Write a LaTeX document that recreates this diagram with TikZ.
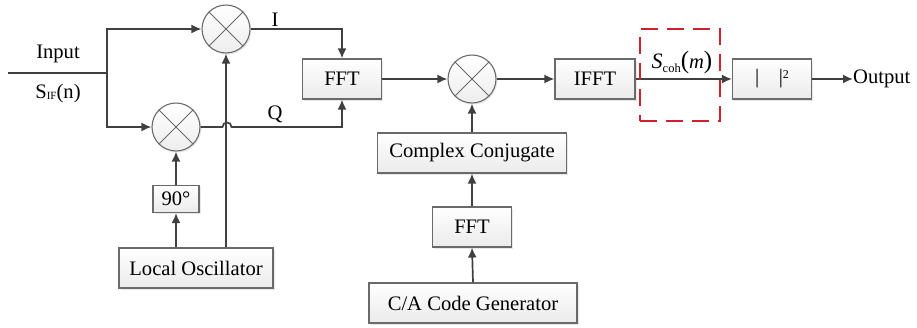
\documentclass[tikz,border=0pt]{standalone}
\usepackage{fontspec}
\setmainfont{Liberation Serif}
\usetikzlibrary{arrows.meta,shadows}
\definecolor{ln}{HTML}{404040}
\definecolor{bd}{HTML}{6A6A6A}
\definecolor{hired}{HTML}{D0202E}
\begin{document}
\begin{tikzpicture}[x=1pt,y=-1pt,
  font=\fontsize{20.6}{24}\selectfont,
  blk/.style={draw=bd,line width=1.1pt,top color=white,bottom color=gray!16,
    drop shadow={opacity=0.18,shadow xshift=1.5pt,shadow yshift=-1.5pt},
    minimum height=40pt,inner sep=0pt,align=center},
  mix/.style={circle,draw=bd,line width=1.1pt,top color=white,bottom color=gray!14,
    drop shadow={opacity=0.18,shadow xshift=1.5pt,shadow yshift=-1.5pt},
    minimum size=48pt,inner sep=0pt},
  wire/.style={draw=ln,line width=1.7pt},
  arr/.style={wire,-{Latex[length=10pt,width=9pt]}},
  lbl/.style={inner sep=0pt,text=black}]
\useasboundingbox (0,0) rectangle (917,327);

% blocks
\node[mix] (mixU) at (226,29) {};
\node[mix] (mixL) at (176,127) {};
\node[mix] (mixM) at (472,79) {};
\foreach \m in {mixU,mixL,mixM}{
  \draw[bd,line width=1pt] (\m.north west) -- (\m.south east);
  \draw[bd,line width=1pt] (\m.north east) -- (\m.south west);
}
\node[blk,minimum width=79pt] (fft1) at (342,79) {FFT};
\node[blk,minimum width=80pt] (ifft) at (595,79) {IFFT};
\node[blk,minimum width=79pt] (abs) at (772,79) {|\hspace{0.95em}|\raisebox{0.55ex}{\fontsize{12}{12}\selectfont 2}};
\node[blk,minimum width=189pt] (cc) at (472,153) {Complex Conjugate};
\node[blk,minimum width=79pt] (fft2) at (472,227) {FFT};
\node[blk,minimum width=208pt] (ca) at (473,303) {C/A Code Generator};
\node[blk,minimum width=154pt] (lo) at (196,268) {Local Oscillator};
\node[blk,minimum width=46pt,minimum height=27pt] (ph) at (176,199) {90°};

% input
\coordinate (inL) at (8,73);
\coordinate (split) at (107,73);
\draw[wire] (inL) -- (split);
\draw[arr] (split) |- (mixU.west);
\draw[arr] (split) |- (mixL.west);
\node[lbl] (tin) at (58,54) {Input};
\node[lbl] (tsif) at (58,94) {S\raisebox{-0.05ex}{\fontsize{11}{11}\selectfont IF}(n)};

% I and Q
\draw[arr] (mixU.east) -| (fft1.north);
\node[lbl] (tI) at (275,20) {I};
\coordinate (hop) at (227,127);
\draw[arr] (mixL.east) -- ([xshift=-4.5pt]hop) .. controls +(0,-6) and +(0,-6) .. ([xshift=4.5pt]hop) -| (fft1.south);
\node[lbl] (tQ) at (275,114) {Q};

% oscillator
\draw[arr] (lo.north -| mixU) -- (mixU.south);
\draw[arr] (lo.north -| mixL) -- (ph.south);
\draw[arr] (ph.north) -- (mixL.south);

% correlation path
\draw[arr] (fft1.east) -- (mixM.west);
\draw[arr] (mixM.east) -- (ifft.west);
\draw[arr] (cc.north) -- (mixM.south);
\draw[arr] (fft2.north) -- (cc.south);
\draw[arr] (ca.north) -- (fft2.south);
\draw[arr] (ifft.east) -- (abs.west);
\node[lbl,anchor=west] (tout) at (853,79) {Output};
\draw[arr] (abs.east) -- (tout.west);
\node[lbl] (tscoh) at (682,62) {{\fontsize{22}{22}\selectfont\textit{S}}\raisebox{-0.5ex}{\fontsize{12.5}{12.5}\selectfont coh}{\fontsize{25}{25}\selectfont(}\textit{m}{\fontsize{25}{25}\selectfont)}};

% highlight
\node[draw=hired,line width=2.7pt,dash pattern=on 17pt off 9pt,
  minimum width=80pt,minimum height=92pt,inner sep=0pt] (hl) at (680,75) {};
\end{tikzpicture}
\end{document}
